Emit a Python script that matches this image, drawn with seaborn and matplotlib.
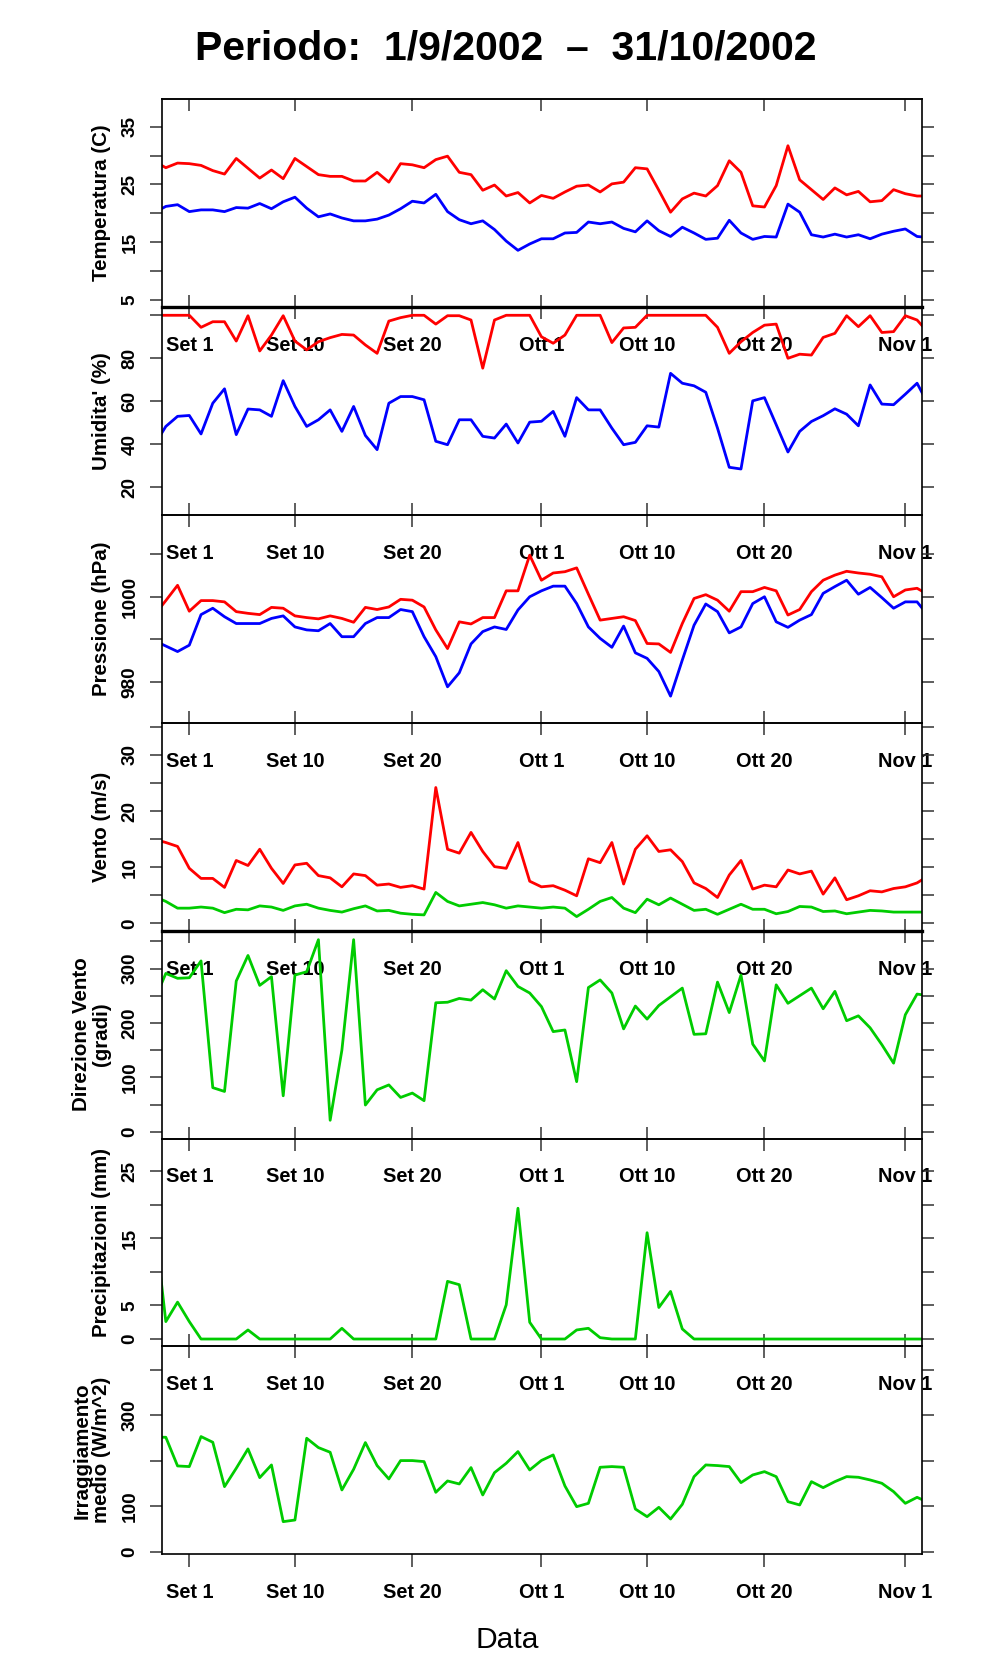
import numpy as np
import pandas as pd
import matplotlib
matplotlib.use("Agg")
import matplotlib.pyplot as plt
import seaborn as sns

# ---------------- data (daily, 29 Aug 2002 .. 3 Nov 2002) ----------------
dates = pd.date_range("2002-08-29", "2002-11-03", freq="D")

temp_max = [29.0, 27.9, 28.7, 28.6, 28.3, 27.4, 26.8, 29.5, 27.8, 26.1, 27.5, 26.0, 29.5, 28.1,
            26.7, 26.4, 26.4, 25.6, 25.6, 27.1, 25.4, 28.6, 28.4, 27.9, 29.3, 29.9, 27.1, 26.7,
            24.0, 24.9, 23.0, 23.6, 21.8, 23.1, 22.6, 23.7, 24.7, 24.9, 23.7, 25.1, 25.4, 27.9,
            27.7, 24.0, 20.2, 22.5, 23.5, 23.0, 24.8, 29.1, 27.1, 21.3, 21.1, 24.8, 31.7, 25.8,
            24.1, 22.4, 24.4, 23.2, 23.8, 22.0, 22.2, 24.1, 23.4, 23.0, 23.0]
temp_min = [20.1, 21.2, 21.5, 20.3, 20.6, 20.6, 20.3, 21.0, 20.9, 21.7, 20.8, 22.0, 22.8, 20.9,
            19.4, 19.9, 19.2, 18.7, 18.7, 19.0, 19.7, 20.8, 22.1, 21.8, 23.3, 20.3, 18.9, 18.2,
            18.7, 17.2, 15.2, 13.6, 14.7, 15.6, 15.6, 16.6, 16.7, 18.5, 18.2, 18.5, 17.4, 16.8,
            18.7, 17.0, 16.0, 17.6, 16.6, 15.5, 15.7, 18.8, 16.6, 15.5, 16.0, 15.9, 21.6, 20.2,
            16.3, 15.9, 16.4, 15.9, 16.3, 15.6, 16.4, 16.9, 17.3, 16.0, 15.8]

hum_max = [100, 100, 100, 100, 94.4, 97.0, 97.0, 88.0, 99.8, 83.4, 90.8, 99.8, 88.0, 83.9,
           87.7, 89.6, 91.1, 90.8, 86.2, 82.3, 97.3, 98.9, 100, 100, 95.9, 99.8, 99.8, 97.8,
           75.4, 97.8, 100, 100, 100, 90.0, 87.0, 90.8, 100, 100, 100, 87.3, 94.1, 94.4,
           100, 100, 100, 100, 100, 100, 94.4, 82.3, 87.7, 92.0, 95.4, 95.9, 80.0, 81.9,
           81.5, 89.7, 91.6, 99.8, 94.7, 99.8, 92.0, 92.4, 99.8, 97.8, 91.7]
hum_min = [39.4, 48.3, 53.0, 53.4, 44.8, 59.1, 65.8, 44.5, 56.4, 56.0, 53.0, 69.6, 57.6, 48.3,
           51.4, 56.0, 46.0, 57.6, 44.1, 37.5, 59.1, 62.2, 62.2, 60.7, 41.4, 39.8, 51.4, 51.4,
           43.7, 42.9, 49.4, 40.6, 50.3, 50.7, 55.3, 43.7, 61.7, 56.0, 56.0, 47.5, 39.8, 40.9,
           48.6, 48.0, 73.0, 68.4, 67.2, 64.2, 47.5, 29.3, 28.5, 60.2, 61.7, 49.1, 36.4, 46.0,
           50.6, 53.3, 56.5, 54.0, 48.6, 67.6, 58.7, 58.4, 63.3, 68.4, 58.1]

press_max = [995.6, 999.1, 1002.7, 996.6, 999.1, 999.1, 998.8, 996.5, 996.1, 995.8, 997.5, 997.3,
             995.5, 995.1, 994.8, 995.5, 994.9, 994.0, 997.5, 997.0, 997.6, 999.4, 999.2, 997.6,
             992.2, 987.8, 994.1, 993.6, 995.1, 995.1, 1001.4, 1001.4, 1009.8, 1003.9, 1005.6,
             1005.9, 1006.8, 1000.6, 994.5, 994.9, 995.3, 994.4, 989.0, 988.9, 986.9, 993.7,
             999.6, 1000.5, 999.2, 996.6, 1001.2, 1001.2, 1002.2, 1001.4, 995.7, 997.0, 1001.2,
             1003.9, 1005.1, 1006.0, 1005.6, 1005.3, 1004.7, 1000.0, 1001.6, 1002.0, 1000.4]
press_min = [989.7, 988.4, 987.1, 988.6, 995.8, 997.3, 995.3, 993.7, 993.7, 993.7, 994.9, 995.5,
             992.9, 992.2, 992.0, 993.7, 990.6, 990.6, 993.7, 995.1, 995.1, 997.0, 996.5, 990.6,
             985.9, 978.8, 982.1, 988.9, 991.8, 992.9, 992.3, 996.9, 1000.0, 1001.4, 1002.5,
             1002.5, 998.4, 992.9, 990.2, 988.1, 993.1, 986.8, 985.5, 982.4, 976.6, 985.1,
             993.3, 998.3, 996.5, 991.5, 992.9, 998.4, 1000.0, 994.1, 992.8, 994.5, 995.8,
             1000.8, 1002.4, 1003.9, 1000.6, 1002.2, 999.8, 997.3, 998.8, 998.8, 995.4]

wind_max = [15.0, 14.4, 13.7, 9.8, 8.0, 8.0, 6.4, 11.2, 10.3, 13.2, 9.8, 7.1, 10.4, 10.7,
            8.5, 8.1, 6.5, 8.8, 8.5, 6.8, 7.0, 6.4, 6.7, 6.1, 24.2, 13.2, 12.5, 16.2,
            12.8, 10.1, 9.8, 14.4, 7.5, 6.5, 6.7, 5.9, 4.9, 11.5, 10.8, 14.4, 7.0, 13.2,
            15.6, 12.8, 13.1, 11.0, 7.2, 6.2, 4.6, 8.6, 11.2, 6.1, 6.8, 6.5, 9.5, 8.8,
            9.3, 5.2, 8.1, 4.2, 4.9, 5.8, 5.6, 6.2, 6.5, 7.2, 8.5]
wind_mean = [4.8, 3.9, 2.7, 2.7, 2.9, 2.7, 1.9, 2.5, 2.4, 3.1, 2.9, 2.3, 3.1, 3.4,
             2.7, 2.3, 2.0, 2.6, 3.1, 2.2, 2.3, 1.8, 1.6, 1.5, 5.5, 3.9, 3.1, 3.4,
             3.7, 3.3, 2.7, 3.1, 2.9, 2.7, 2.9, 2.7, 1.2, 2.5, 3.9, 4.6, 2.7, 1.9,
             4.3, 3.3, 4.5, 3.4, 2.3, 2.5, 1.6, 2.5, 3.4, 2.5, 2.5, 1.7, 2.1, 3.0,
             2.9, 2.1, 2.2, 1.7, 2.0, 2.3, 2.2, 2.0, 2.0, 2.0, 2.0]

wind_dir = [240, 291, 282, 283, 314, 81, 74, 277, 324, 269, 285, 66, 288, 294,
            353, 21, 150, 353, 49, 77, 86, 63, 71, 57, 237, 238, 245, 242,
            261, 244, 296, 267, 255, 230, 184, 187, 92, 265, 279, 255, 189, 231,
            207, 232, 248, 264, 179, 180, 275, 219, 288, 161, 130, 270, 236, 250,
            264, 226, 258, 204, 213, 191, 160, 126, 215, 253, 250]

precip = [18.0, 2.6, 5.5, 2.6, 0, 0, 0, 0, 1.35, 0, 0, 0, 0, 0,
          0, 0, 1.6, 0, 0, 0, 0, 0, 0, 0, 0, 8.6, 8.1, 0,
          0, 0, 5.1, 19.5, 2.5, 0, 0, 0, 1.35, 1.6, 0.2, 0, 0, 0,
          15.85, 4.7, 7.1, 1.5, 0, 0, 0, 0, 0, 0, 0, 0, 0, 0,
          0, 0, 0, 0, 0, 0, 0, 0, 0, 0, 0]

irrad = [251.7, 251.7, 188.6, 187.2, 253.2, 240.7, 143.1, 183.5, 226.1, 162.9, 190.8, 66.1,
         69.7, 249.5, 229.0, 218.7, 135.8, 181.3, 240.0, 189.4, 160.0, 200.4, 200.4, 198.2,
         130.6, 155.6, 149.0, 185.0, 124.8, 173.9, 194.5, 220.2, 179.8, 200.7, 212.8, 144.6,
         99.1, 106.4, 185.7, 187.2, 185.7, 93.9, 77.1, 97.6, 71.9, 104.2, 165.1, 190.8,
         189.4, 187.2, 151.9, 168.8, 176.1, 165.1, 110.1, 102.8, 154.1, 140.9, 154.1, 165.1,
         163.7, 157.8, 150.5, 132.1, 106.4, 119.6, 108.0]

tick_dates = ["2002-09-01", "2002-09-10", "2002-09-20", "2002-10-01",
              "2002-10-10", "2002-10-20", "2002-11-01"]
tick_labels = ["Set 1", "Set 10", "Set 20", "Ott 1", "Ott 10", "Ott 20", "Nov 1"]

title = "Periodo:  1/9/2002  \u2013  31/10/2002"
xlabel = "Data"

# ---------------- style ----------------
sns.set_theme(style="white")
plt.rcParams['font.family'] = ['Liberation Sans', 'DejaVu Sans']
plt.rcParams['text.color'] = 'black'
plt.rcParams['axes.labelcolor'] = 'black'
plt.rcParams['xtick.color'] = 'black'
plt.rcParams['ytick.color'] = 'black'

RED, BLUE, GREEN = "#FF0000", "#0000FF", "#00CC00"
ref = pd.Timestamp("2002-09-01")
df = pd.DataFrame({"day": (dates - ref).days.astype(float),
                   "temp_max": temp_max, "temp_min": temp_min,
                   "hum_max": hum_max, "hum_min": hum_min,
                   "press_max": press_max, "press_min": press_min,
                   "wind_max": wind_max, "wind_mean": wind_mean,
                   "wind_dir": wind_dir, "precip": precip, "irrad": irrad})
tick_days = [(pd.Timestamp(t) - ref).days for t in tick_dates]

panels = [
    dict(cols=[("temp_max", RED), ("temp_min", BLUE)], ylim=(3.81, 39.79),
         ticks=[5, 10, 15, 20, 25, 30, 35], labels=[5, 15, 25, 35], ylabel="Temperatura (C)"),
    dict(cols=[("hum_max", RED), ("hum_min", BLUE)], ylim=(7.2, 103.9),
         ticks=[20, 40, 60, 80, 100], labels=[20, 40, 60, 80], ylabel="Umidita' (%)"),
    dict(cols=[("press_max", RED), ("press_min", BLUE)], ylim=(970.35, 1019.3),
         ticks=[980, 990, 1000, 1010], labels=[980, 1000], ylabel="Pressione (hPa)"),
    dict(cols=[("wind_max", RED), ("wind_mean", GREEN)], ylim=(-1.30, 35.75),
         ticks=[0, 5, 10, 15, 20, 25, 30, 35], labels=[0, 10, 20, 30], ylabel="Vento (m/s)"),
    dict(cols=[("wind_dir", GREEN)], ylim=(-12.5, 369.7),
         ticks=[0, 50, 100, 150, 200, 250, 300, 350], labels=[0, 100, 200, 300],
         ylabel="Direzione Vento\n(gradi)"),
    dict(cols=[("precip", GREEN)], ylim=(-1.1, 29.9),
         ticks=[0, 5, 10, 15, 20, 25], labels=[0, 5, 15, 25], ylabel="Precipitazioni (mm)"),
    dict(cols=[("irrad", GREEN)], ylim=(-5.7, 451.5),
         ticks=[0, 100, 200, 300, 400], labels=[0, 100, 300],
         ylabel="Irraggiamento\nmedio (W/m^2)"),
]

W, H = 996, 1680
PT = 0.72  # points per pixel at dpi 100
fig = plt.figure(figsize=(W / 100, H / 100), dpi=100)
fig.patch.set_facecolor("white")

left_px, right_px = 161.7, 921.7
top_px, panel_h = 99.0, 207.9
xlim = (-2.351, 62.395)
TICKC = "#333333"

for i, p in enumerate(panels):
    top = top_px + i * panel_h
    ax = fig.add_axes([left_px / W, 1 - (top + panel_h) / H,
                       (right_px - left_px) / W, panel_h / H])
    ax.set_facecolor("none")
    for col, color in p["cols"]:
        sns.lineplot(data=df, x="day", y=col, ax=ax, color=color, linewidth=2.0,
                     estimator=None, sort=False)
    ax.set_xlim(*xlim)
    ax.set_ylim(*p["ylim"])
    ax.set_xlabel("")
    ax.set_ylabel("")

    for s in ax.spines.values():
        s.set_visible(True)
        s.set_color("black")
        s.set_linewidth(1.2)
    if i in (0, 3):
        ax.spines["bottom"].set_linewidth(2.4)

    # y axis: ticks outward on both sides, labels on the left only
    ax.set_yticks(p["ticks"])
    ax.set_yticklabels([str(t) if t in p["labels"] else "" for t in p["ticks"]])
    ax.tick_params(axis="y", which="major", left=True, right=True, direction="out",
                   length=12 * PT, width=1.1, color=TICKC, pad=11 * PT,
                   labelsize=19 * PT, labelleft=True, labelright=False, labelcolor="black")
    for lab in ax.get_yticklabels():
        lab.set_rotation(90)
        lab.set_va("center")
        lab.set_fontweight("bold")

    # x axis: date ticks; labels below each panel
    ax.set_xticks(tick_days)
    ax.set_xticklabels(tick_labels)
    last = (i == len(panels) - 1)
    ax.tick_params(axis="x", which="major", bottom=True, top=False,
                   direction="out" if last else "inout",
                   length=(13 if last else 24) * PT, width=1.1, color=TICKC,
                   pad=(16 if last else 17) * PT, labelsize=20 * PT, labelcolor="black")
    for lab in ax.get_xticklabels():
        lab.set_fontweight("bold")
    if i == 0:
        sec = ax.secondary_xaxis("top")
        sec.set_xticks(tick_days)
        sec.set_xticklabels([])
        sec.tick_params(axis="x", direction="in", length=12 * PT, width=1.1, color=TICKC)
        sec.spines["top"].set_linewidth(1.2)

    fig.text(111 / W, 1 - (top + panel_h / 2) / H, p["ylabel"], rotation=90,
             ha="right", va="center", multialignment="center", linespacing=1.05,
             fontsize=20.5 * PT, fontweight="bold", color="black")

fig.text(506 / W, 1 - 49 / H, title, ha="center", va="center",
         fontsize=41 * PT, fontweight="bold", color="black")
fig.text(507 / W, 1 - 1640 / H, xlabel, ha="center", va="center", fontsize=30 * PT,
         color="black")

fig.savefig("out.png", dpi=100, facecolor="white")
